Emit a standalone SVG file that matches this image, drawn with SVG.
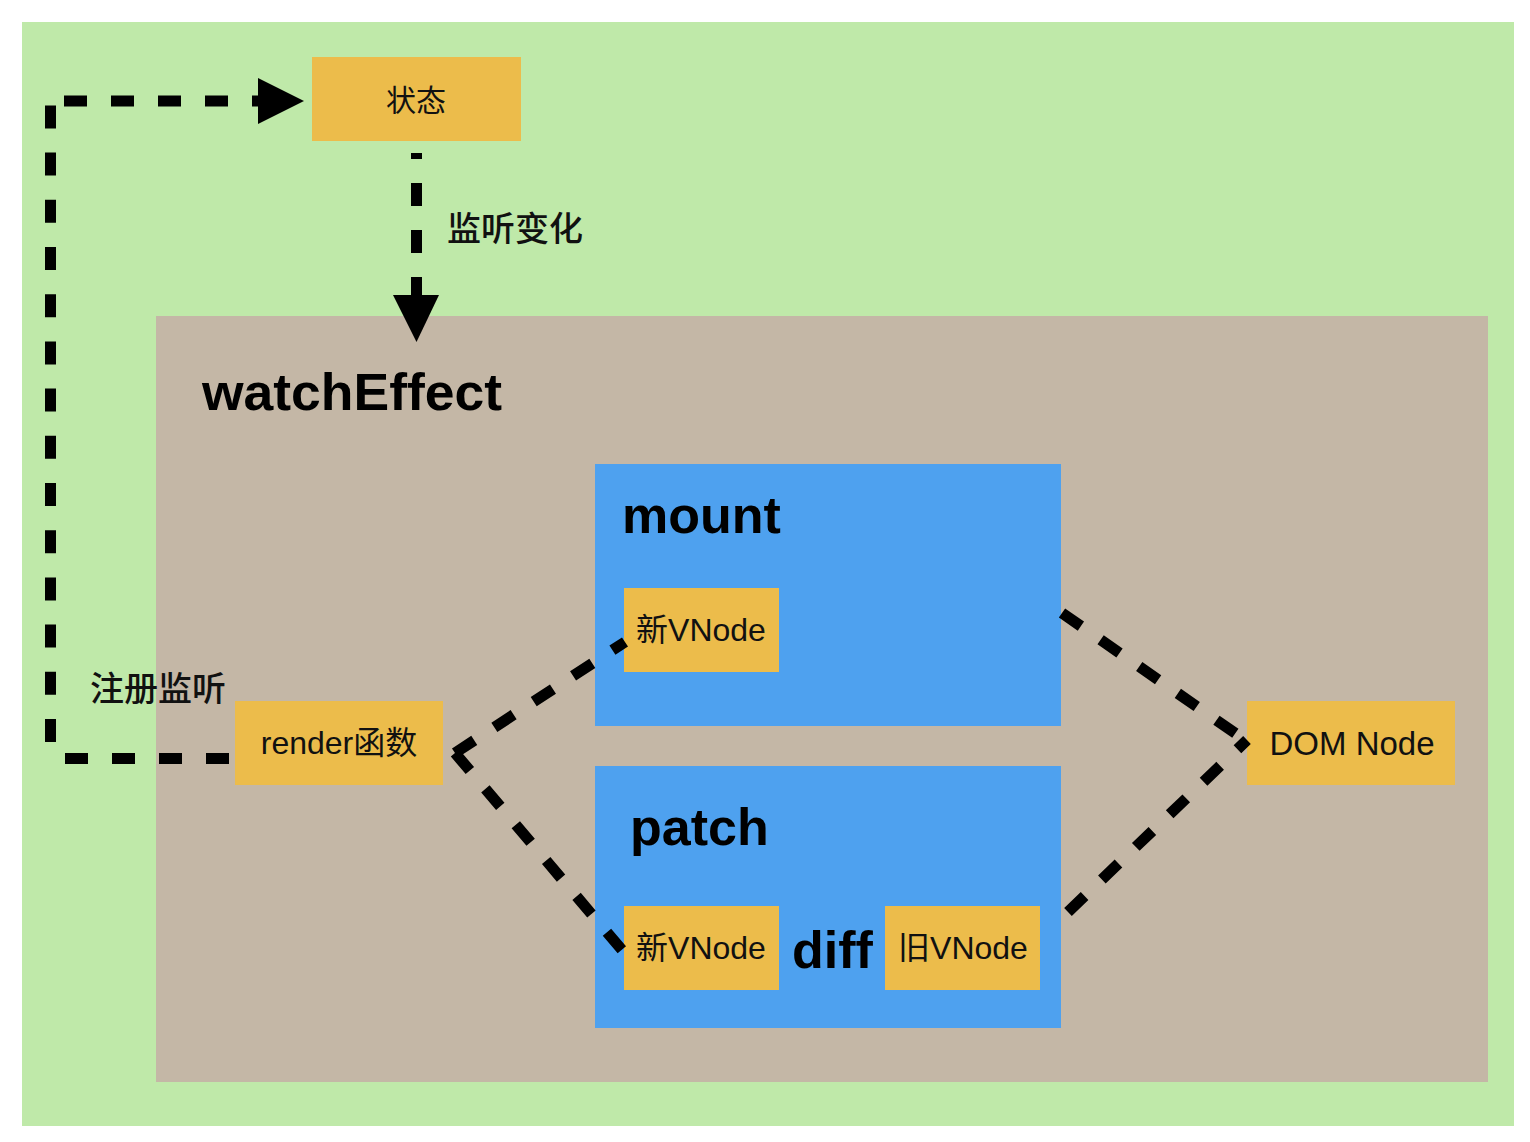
<svg xmlns="http://www.w3.org/2000/svg" width="1530" height="1142" viewBox="0 0 1530 1142">
<style>
.box{fill:#ecbc4b}
.blue{fill:#4ea1ef}
.lbl{font-family:"Liberation Sans","Noto Sans CJK SC",sans-serif;fill:#111}
.big{font-family:"Liberation Sans","Noto Sans CJK SC",sans-serif;font-weight:bold;font-size:52px;fill:#000}
.cn{font-family:"Noto Sans CJK SC","Liberation Sans",sans-serif;font-weight:500;font-size:34px;fill:#111}
.dash{fill:none;stroke:#000;stroke-width:11;stroke-dasharray:23 24}
</style>
<rect x="0" y="0" width="1530" height="1142" fill="#ffffff"/>
<rect x="22" y="22" width="1492" height="1104" fill="#bfe9a9"/>
<g id="watchEffect">
<rect x="156" y="316" width="1332" height="766" fill="#c4b7a6"/>
<text class="big" x="202" y="410" textLength="300" lengthAdjust="spacingAndGlyphs">watchEffect</text>
</g>
<g id="state">
<rect class="box" x="312" y="57" width="209" height="84"/>
<text class="lbl" x="416" y="111" font-size="30" text-anchor="middle">状态</text>
</g>
<g id="mount">
<rect class="blue" x="595" y="464" width="466" height="262"/>
<text class="big" x="622" y="533">mount</text>
</g>
<g id="mount-newvnode">
<rect class="box" x="624" y="588" width="155" height="84"/>
<text class="lbl" x="701" y="641" font-size="32" text-anchor="middle">新VNode</text>
</g>
<g id="patch">
<rect class="blue" x="595" y="766" width="466" height="262"/>
<text class="big" x="630" y="845">patch</text>
<text class="big" x="792" y="968">diff</text>
</g>
<g id="patch-newvnode">
<rect class="box" x="624" y="906" width="155" height="84"/>
<text class="lbl" x="701" y="959" font-size="32" text-anchor="middle">新VNode</text>
</g>
<g id="patch-oldvnode">
<rect class="box" x="885" y="906" width="155" height="84"/>
<text class="lbl" x="963" y="959" font-size="32" text-anchor="middle">旧VNode</text>
</g>
<g id="render">
<rect class="box" x="235" y="701" width="208" height="84"/>
<text class="lbl" x="339" y="754" font-size="32" text-anchor="middle">render函数</text>
</g>
<g id="dom-node">
<rect class="box" x="1247" y="701" width="208" height="84"/>
<text class="lbl" x="1352" y="755" font-size="33" text-anchor="middle">DOM Node</text>
</g>
<g id="labels">
<text class="cn" x="447" y="241">监听变化</text>
<text class="cn" x="90" y="701">注册监听</text>
</g>
<g id="connectors">
<path class="dash" d="M229 758.5 H64"/>
<path class="dash" d="M50.5 742 V105" style="stroke-dasharray:23 24.2"/>
<path class="dash" d="M64 101 H262"/>
<polygon points="258,78 304,101 258,124" fill="#000"/>
<path class="dash" d="M416.5 153 V297" style="stroke-dasharray:6 24 23 24 23 24 40"/>
<polygon points="393,295 439,295 416.5,342" fill="#000"/>
<path class="dash" d="M455 753 L625 642"/>
<path class="dash" d="M455 753 L622 950"/>
<path class="dash" d="M1062 613 L1245 740"/>
<path class="dash" d="M1068 912 L1247 740"/>
</g>
</svg>
